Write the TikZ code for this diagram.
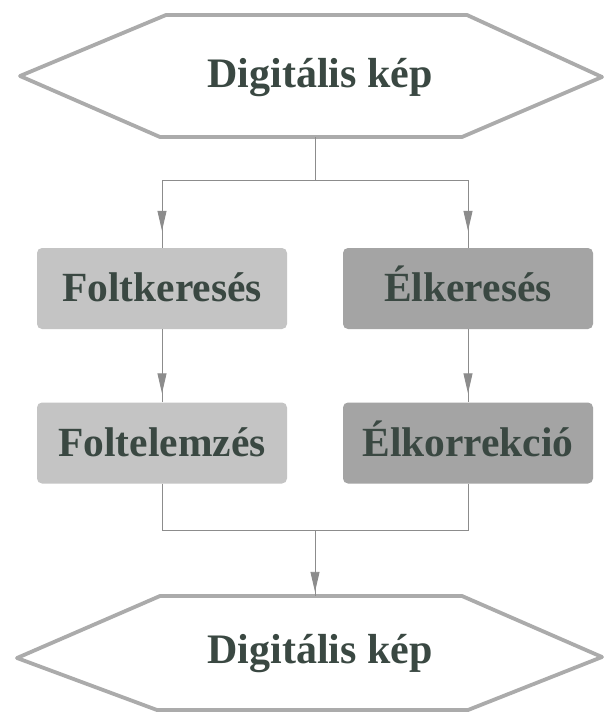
\documentclass[tikz,border=0pt]{standalone}
\usepackage{fontspec}
\setmainfont{Liberation Serif}
\usetikzlibrary{arrows.meta}
\definecolor{txtc}{HTML}{3A4842}
\definecolor{boxl}{HTML}{C4C4C4}
\definecolor{boxr}{HTML}{A4A4A4}
\definecolor{hexc}{HTML}{ABABAB}
\definecolor{linec}{HTML}{8C8C8C}
\begin{document}
\begin{tikzpicture}[x=1pt,y=-1pt,
  procbox/.style={rounded corners=5pt, minimum width=250pt, minimum height=81pt,
    inner sep=0pt, text=txtc, font=\fontsize{41.5}{48}\selectfont\bfseries,
    text height=26pt, text depth=0pt},
  hexnode/.style={minimum width=582pt, minimum height=#1, inner sep=0pt, draw=none},
  hexline/.style={draw=hexc, line width=3.8pt, line join=round},
  hextext/.style={anchor=base, text=txtc, inner sep=0pt, font=\fontsize{42}{50}\selectfont\bfseries},
  conn/.style={draw=linec, line width=0.9pt},
  arrowpiece/.style={draw=linec, line width=0.9pt, -{Triangle[length=20pt,width=9pt]}, fill=linec}
]
\useasboundingbox (0,0) rectangle (605,719);
\fill[white] (0,0) rectangle (605,719);

% top hexagon
\node[hexnode=122pt] (h1) at (315,76) {};
\draw[hexline] (20,76) -- (166,15) -- (467,15) -- (602,77) -- (462,137) -- (160,137) -- cycle;
\node[hextext] (t1) at (320,88) {Digitális kép};

% boxes
\node[procbox, fill=boxl] (fk) at (162,288.5) {Foltkeresés};
\node[procbox, fill=boxr] (ek) at (468,288.5) {Élkeresés};
\node[procbox, fill=boxl] (fe) at (162,443) {Foltelemzés};
\node[procbox, fill=boxr] (ekr) at (468,443) {Élkorrekció};

% bottom hexagon
\node[hexnode=114pt] (h2) at (315,653) {};
\draw[hexline] (17,658) -- (160,596) -- (462,596) -- (602,657) -- (468,710) -- (157,710) -- cycle;
\node[hextext] (t2) at (320,663) {Digitális kép};

% junctions
\coordinate (j1) at (315,180);
\coordinate (j2) at (315,530);

% connectors top
\draw[conn] (h1.south) -- (j1);
\draw[conn] (j1) -| (fk.north);
\draw[conn] (j1) -| (ek.north);
\draw[arrowpiece] ([yshift=40pt]fk.north) -- ([yshift=17pt]fk.north);
\draw[arrowpiece] ([yshift=40pt]ek.north) -- ([yshift=17pt]ek.north);

% connectors middle
\draw[conn] (fk.south) -- (fe.north);
\draw[conn] (ek.south) -- (ekr.north);
\draw[arrowpiece] ([yshift=40pt]fe.north) -- ([yshift=9pt]fe.north);
\draw[arrowpiece] ([yshift=40pt]ekr.north) -- ([yshift=9pt]ekr.north);

% connectors bottom
\draw[conn] (fe.south) |- (j2);
\draw[conn] (ekr.south) |- (j2);
\draw[conn] (j2) -- (h2.north);
\draw[arrowpiece] ([yshift=36pt]h2.north) -- ([yshift=4pt]h2.north);
\end{tikzpicture}
\end{document}
